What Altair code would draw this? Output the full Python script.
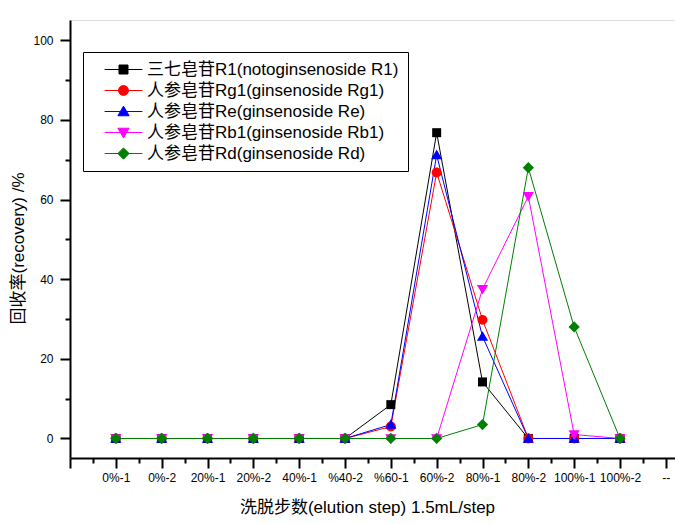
import json
import altair as alt
import pandas as pd

# ---------------- data ----------------
steps = ["0%-1", "0%-2", "20%-1", "20%-2", "40%-1", "%40-2", "%60-1",
         "60%-2", "80%-1", "80%-2", "100%-1", "100%-2"]
tick_labels = ["", "0%-1", "0%-2", "20%-1", "20%-2", "40%-1", "%40-2", "%60-1",
               "60%-2", "80%-1", "80%-2", "100%-1", "100%-2", "--"]

series_names = [
    "三七皂苷R1(notoginsenoside R1)",
    "人参皂苷Rg1(ginsenoside Rg1)",
    "人参皂苷Re(ginsenoside Re)",
    "人参皂苷Rb1(ginsenoside Rb1)",
    "人参皂苷Rd(ginsenoside Rd)",
]
r1 = [0, 0, 0, 0, 0, 0, 8.5, 76.8, 14.2, 0, 0, 0]
rg1 = [0, 0, 0, 0, 0, 0, 3.0, 66.8, 29.8, 0, 0, 0]
re_ = [0, 0, 0, 0, 0, 0, 3.5, 71.2, 25.6, 0, 0, 0]
rb1 = [0, 0, 0, 0, 0, 0, 0, 0, 37.5, 60.8, 1.0, 0]
rd = [0, 0, 0, 0, 0, 0, 0, 0, 3.5, 68.0, 28.0, 0]
series_values = [r1, rg1, re_, rb1, rd]

colors = ["#000000", "#FF0000", "#0000FF", "#FF00FF", "#008000"]

# marker shapes (unit box paths)
square = "M-1,-1H1V1H-1Z"
circle = "M-1.1,0A1.1,1.1,0,1,1,1.1,0A1.1,1.1,0,1,1,-1.1,0Z"
tri_up = "M0,-1.2L1.25,0.95H-1.25Z"
tri_down = "M0,1.2L1.25,-0.95H-1.25Z"
diamond = "M0,-1.25L1.25,0L0,1.25L-1.25,0Z"
shapes = [square, circle, tri_up, tri_down, diamond]
seg = "M-4.2,0H4.2"
legend_shapes = [seg + s for s in shapes]

rows = []
for name, vals in zip(series_names, series_values):
    for i, v in enumerate(vals):
        rows.append({"series": name, "pos": i + 1, "step": steps[i], "value": v})
df = pd.DataFrame(rows)

FONT = "Liberation Sans, Noto Sans CJK SC"

x_scale = alt.Scale(domain=[0, 13.2], nice=False, zero=False)
y_scale = alt.Scale(domain=[-4.9, 105.1], nice=False, zero=False)
color_scale = alt.Scale(domain=series_names, range=colors)

label_expr = json.dumps(tick_labels, ensure_ascii=False) + "[round(datum.value)]"

x_main = alt.X(
    "pos:Q", scale=x_scale,
    axis=alt.Axis(
        orient="bottom",
        values=list(range(0, 14)), labelExpr=label_expr, tickSize=10, tickWidth=2,
        domainWidth=2, domainColor="black", tickColor="black", grid=False,
        labelFont=FONT, labelFontSize=12, labelColor="black", labelPadding=4,
        labelOverlap=False, labelFlush=False, labelBound=False,
        title="洗脱步数(elution step) 1.5mL/step", titleFont=FONT,
        titleFontSize=17, titleFontWeight="normal", titleColor="black",
        titleX=297, titleY=49, titleBaseline="middle", titleAlign="center",
    ),
)
y_main = alt.Y(
    "value:Q", scale=y_scale,
    axis=alt.Axis(
        orient="left",
        values=[0, 20, 40, 60, 80, 100], tickSize=10, tickWidth=2, domainWidth=2,
        domainColor="black", tickColor="black", grid=False,
        labelFont=FONT, labelFontSize=12, labelColor="black", labelPadding=7,
        title="回收率(recovery) /%", titleFont=FONT, titleFontSize=17,
        titleFontWeight="normal", titleColor="black",
        titleX=-52, titleY=228, titleBaseline="middle", titleAlign="center",
        titleAngle=270,
    ),
)

lines = alt.Chart(df).mark_line(strokeWidth=1).encode(
    x=x_main, y=y_main,
    color=alt.Color("series:N", scale=color_scale, legend=None),
    detail="series:N",
    order="pos:Q",
)

points = alt.Chart(df).mark_point(filled=True, opacity=1, size=81).encode(
    x=alt.X("pos:Q", scale=x_scale, axis=None),
    y=alt.Y("value:Q", scale=y_scale, axis=None),
    color=alt.Color("series:N", scale=color_scale, legend=None),
    shape=alt.Shape("series:N", scale=alt.Scale(domain=series_names, range=shapes), legend=None),
)


def make_legend():
    return alt.Legend(
        title=None, orient="none", legendX=13, legendY=32, padding=9,
        strokeColor="black", fillColor="white",
        labelFont=FONT, labelFontSize=17, labelColor="black", labelLimit=400,
        symbolSize=81, symbolOffset=23, labelOffset=15, rowPadding=3,
        symbolStrokeWidth=1, symbolOpacity=1,
    )


legend_layer = alt.Chart(df).mark_point(
    filled=True, opacity=0, size=81, strokeWidth=1
).encode(
    x=alt.X("pos:Q", scale=x_scale,
            axis=alt.Axis(orient="bottom", values=[i + 0.5 for i in range(13)], labels=False,
                          domain=False, tickSize=5, tickWidth=2, tickColor="black",
                          tickOpacity=1, grid=False, title=None)),
    y=alt.Y("value:Q", scale=y_scale,
            axis=alt.Axis(orient="left", values=[10, 30, 50, 70, 90], labels=False,
                          domain=False, tickSize=5, tickWidth=2, tickColor="black",
                          tickOpacity=1, grid=False, title=None)),
    fill=alt.Fill("series:N", scale=alt.Scale(domain=series_names, range=colors),
                  legend=make_legend()),
    stroke=alt.Stroke("series:N", scale=alt.Scale(domain=series_names, range=colors),
                      legend=make_legend()),
    shape=alt.Shape("series:N", scale=alt.Scale(domain=series_names, range=legend_shapes),
                    legend=make_legend()),
)

chart = alt.layer(lines, points, legend_layer).resolve_scale(
    shape="independent", fill="independent", stroke="independent"
).resolve_axis(
    x="independent", y="independent"
).properties(
    width=605, height=438,
    autosize=alt.AutoSizeParams(type="none"),
    padding={"left": 70, "top": 20, "right": 0, "bottom": 66},
).configure_view(stroke=None).configure(background="white")

chart.save("out.html", embed_options={"renderer": "svg", "actions": False})
